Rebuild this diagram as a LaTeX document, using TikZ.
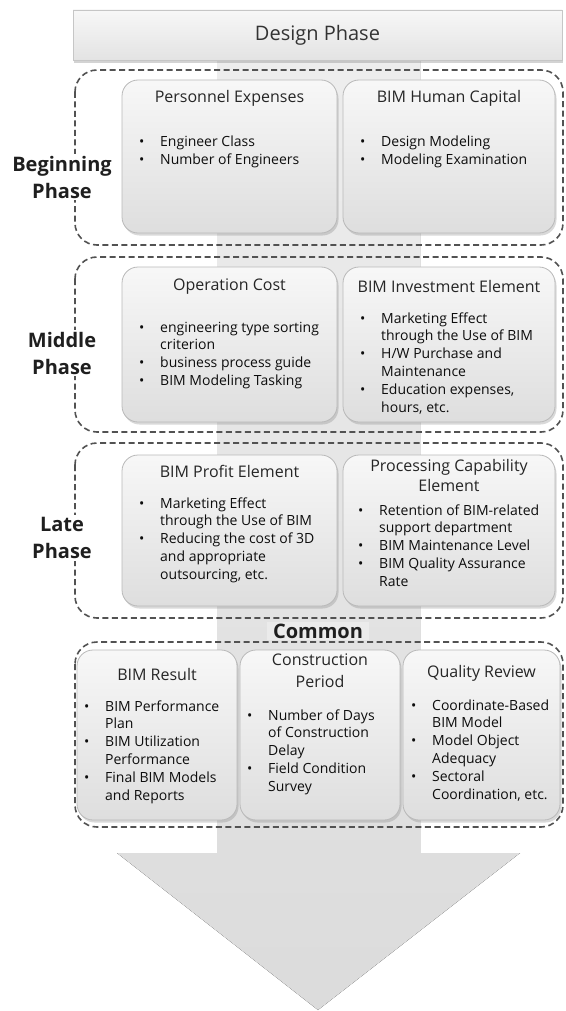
\documentclass[tikz,border=0pt]{standalone}
\usepackage{fontspec}
\setmainfont{Open Sans}
\usepackage{tikz}
\usetikzlibrary{calc,shadows,positioning}

\newcommand{\bul}{\makebox[21pt][l]{\textbullet}}
\newcommand{\cnt}{\makebox[21pt][l]{}}
\newcommand{\lst}[1]{\renewcommand{\arraystretch}{1}\begin{tabular}[t]{@{}l@{}}#1\end{tabular}}

\begin{document}
\begin{tikzpicture}[x=1pt, y=-1pt,
    card/.style={draw=gray!55, line width=0.8pt, rounded corners=16pt,
        top color=gray!6, bottom color=gray!26,
        drop shadow={shadow xshift=1.5pt, shadow yshift=-2.5pt, opacity=0.3}},
    phasebox/.style={draw=black!68, line width=1.6pt, dash pattern=on 6pt off 3.5pt, rounded corners=22pt},
    phaselabel/.style={fill=white, font=\fontsize{20}{27}\selectfont\bfseries, align=center, text=black!88, inner sep=2pt},
    head/.style={font=\fontsize{16}{20}\selectfont, text=black!85, align=center, inner sep=0pt},
    items/.style={font=\fontsize{14}{17.8}\selectfont, text=black!95, anchor=base west, inner sep=0pt},
]
        % --- 1. Parameters ---
        \def\boxL{75}
        \def\boxR{563}
        \def\cardH{153}

        \useasboundingbox (0,0) rectangle (565,1011);

        % --- 2. Big arrow (behind everything) ---
        \fill[top color=gray!14, bottom color=gray!28]
            (217,60) -- (420,60) -- (420,853) -- (520,853) -- (318,1010)
            -- (117,853) -- (217,853) -- cycle;

        % --- 3. Header ---
        \node[draw=gray!45, top color=gray!6, bottom color=gray!22, minimum width=489, minimum height=50,
              font=\fontsize{20}{24}\selectfont, text=black!80,
              drop shadow={shadow xshift=1pt, shadow yshift=-3pt, opacity=0.35}] (design) at (317.5,35) {Design Phase};

        % --- 4. Phase frames ---
        \draw[phasebox] (\boxL,70) rectangle (\boxR,245);
        \draw[phasebox] (\boxL,257) rectangle (\boxR,432);
        \draw[phasebox] (\boxL,443) rectangle (\boxR,618);
        \draw[phasebox] (\boxL,642) rectangle (\boxR,827);

        \node[phaselabel] (beginning) at (62,177) {Beginning\\Phase};
        \node[phaselabel] (middle) at (62,353) {Middle\\Phase};
        \node[phaselabel] (late) at (62,538) {Late\\Phase};
        \node[phaselabel, fill=gray!16, inner xsep=6pt] (common) at (318,631) {Common};

        % --- 5. Beginning phase ---
        \node[card, minimum width=215, minimum height=\cardH] (personnel) at (229.5,156.5) {};
        \node[head] (personnelT) at ($(personnel.north)+(0,19)$) {Personnel Expenses};
        \node[items] (personnelL) at (139,147) {\lst{\bul Engineer Class\\ \bul Number of Engineers}};

        \node[card, minimum width=212, minimum height=\cardH] (capital) at (449,156.5) {};
        \node[head] (capitalT) at ($(capital.north)+(0,19)$) {BIM Human Capital};
        \node[items] (capitalL) at (360,147) {\lst{\bul Design Modeling\\ \bul Modeling Examination}};

        % --- 6. Middle phase ---
        \node[card, minimum width=215, minimum height=155] (operation) at (229.5,344.5) {};
        \node[head] (operationT) at ($(operation.north)+(0,20)$) {Operation Cost};
        \node[items] (operationL) at (139,332) {\lst{\bul engineering type sorting\\ \cnt criterion\\
            \bul business process guide\\ \bul BIM Modeling Tasking}};

        \node[card, minimum width=212, minimum height=155] (investment) at (449,344.5) {};
        \node[head] (investmentT) at ($(investment.north)+(0,20)$) {BIM Investment Element};
        \node[items] (investmentL) at (360,323) {\lst{\bul Marketing Effect\\ \cnt through the Use of BIM\\
            \bul H/W Purchase and\\ \cnt Maintenance\\ \bul Education expenses,\\ \cnt hours, etc.}};

        % --- 7. Late phase ---
        \node[card, minimum width=215, minimum height=151] (profit) at (229.5,530.5) {};
        \node[head] (profitT) at ($(profit.north)+(0,17)$) {BIM Profit Element};
        \node[items] (profitL) at (139,508) {\lst{\bul Marketing Effect\\ \cnt through the Use of BIM\\
            \bul Reducing the cost of 3D\\ \cnt and appropriate\\ \cnt outsourcing, etc.}};

        \node[card, minimum width=212, minimum height=151] (processing) at (449,530.5) {};
        \node[head] (processingT) at ($(processing.north)+(0,21)$) {Processing Capability\\Element};
        \node[items] (processingL) at (358,515) {\lst{\bul Retention of BIM-related\\ \cnt support department\\
            \bul BIM Maintenance Level\\ \bul BIM Quality Assurance\\ \cnt Rate}};

        % --- 8. Common ---
        \node[card, minimum width=160, minimum height=170] (result) at (157,735) {};
        \node[head] (resultT) at ($(result.north)+(0,25)$) {BIM Result};
        \node[items] (resultL) at (84,711) {\lst{\bul BIM Performance\\ \cnt Plan\\ \bul BIM Utilization\\
            \cnt Performance\\ \bul Final BIM Models\\ \cnt and Reports}};

        \node[card, minimum width=160, minimum height=170] (period) at (320,735) {};
        \node[head, font=\fontsize{16}{22}\selectfont] (periodT) at ($(period.north)+(0,21)$) {Construction\\Period};
        \node[items] (periodL) at (247,720) {\lst{\bul Number of Days\\ \cnt of Construction\\ \cnt Delay\\
            \bul Field Condition\\ \cnt Survey}};

        \node[card, minimum width=157, minimum height=170] (quality) at (481.5,735) {};
        \node[head] (qualityT) at ($(quality.north)+(0,24)$) {Quality Review};
        \node[items] (qualityL) at (411,710) {\lst{\bul Coordinate-Based\\ \cnt BIM Model\\ \bul Model Object\\
            \cnt Adequacy\\ \bul Sectoral\\ \cnt Coordination, etc.}};
    \end{tikzpicture}
\end{document}
